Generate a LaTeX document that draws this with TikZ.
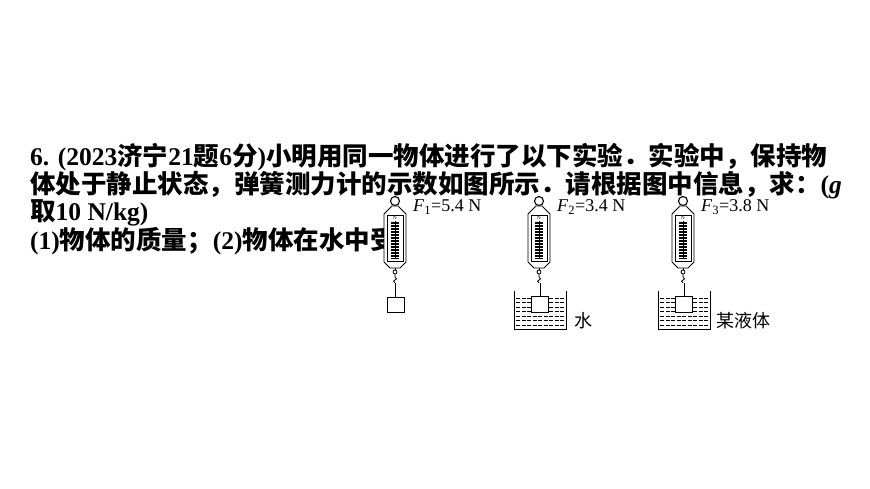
\documentclass[tikz,border=0pt]{standalone}
\usepackage{fontspec}
\setmainfont{Liberation Serif}
\newfontfamily\cjkb{Noto Sans CJK SC Bold}
\newfontfamily\cjk{Noto Sans CJK SC}
\newcommand\hz[1]{{\cjkb #1}}
\newcommand\springscale[1]{%
\begin{scope}[shift={(#1,0)}]
\draw[line width=1.1pt] (0,201) circle (4.5);
\draw[line width=0.9pt,fill=white] (-3,206) -- (3,206) -- (11,214) -- (11,262) -- (5,268) -- (-5,268) -- (-11,262) -- (-11,214) -- cycle;
\draw[line width=0.7pt] (-8,215) -- (8,215) -- (8,261) -- (-8,261) -- cycle;
\node[font=\fontsize{5}{5}\selectfont,inner sep=0] at (0,218) {N};
\foreach \y in {222,223.5,...,258} \draw[line width=0.6pt] (-4,\y) -- (4,\y);
\draw[line width=1pt] (0,221) -- (0,259);
\draw[line width=0.8pt] (0,268) -- (0,270);
\draw[line width=0.8pt] (0,272) circle (2);
\draw[line width=0.8pt] (0,274) -- (0,277) .. controls (2,278) and (2,280) .. (0,280) .. controls (-2,280) and (-2,282) .. (0,283);
\end{scope}}
\newcommand\beaker[1]{%
\begin{scope}[shift={(#1,0)}]
\foreach \y in {298,302.5,...,326} \draw[line width=0.7pt,dash pattern=on 4pt off 1.5pt] (-24,\y) -- (24,\y);
\draw[line width=1pt] (-26,291) -- (-26,329) -- (26,329) -- (26,291);
\draw[line width=0.9pt,fill=white] (-9,296) rectangle (8,312);
\draw[line width=0.8pt] (0,283) -- (0,296);
\end{scope}}
\begin{document}
\begin{tikzpicture}[x=1pt,y=-1pt]
\useasboundingbox (0,0) rectangle (870,489);
\fill[white] (0,0) rectangle (870,489);
\begin{scope}[every node/.style={anchor=base west,inner sep=0,font=\fontsize{25.5}{30}\selectfont\bfseries}]
\node at (30,166) {6. (2023\hz{济宁}21\hz{题}6\hz{分})\hz{小明用同一物体进行了以下实验．实验中，保持物}};
\node at (30,194) {\hz{体处于静止状态，弹簧测力计的示数如图所示．请根据图中信息，求：}(\textit{g}};
\node at (30,221) {\hz{取}10 N/kg)};
\node at (30,249) {(1)\hz{物体的质量；}(2)\hz{物体在水中受}};
\end{scope}
\fill[white] (384,226) rectangle (420,260);
\springscale{395}
\draw[line width=0.8pt] (395,283) -- (395,297);
\draw[line width=0.9pt,fill=white] (387,297) rectangle (404,312);
\springscale{539}
\beaker{540}
\springscale{683}
\beaker{684}
\begin{scope}[every node/.style={anchor=base west,inner sep=0,font=\fontsize{18}{18}\selectfont}]
\node at (413,212) {\textit{F}\textsubscript{1}=5.4 N};
\node at (557,212) {\textit{F}\textsubscript{2}=3.4 N};
\node at (701,212) {\textit{F}\textsubscript{3}=3.8 N};
\node at (574,327) {\cjk 水};
\node at (716,327) {\cjk 某液体};
\end{scope}
\end{tikzpicture}
\end{document}
